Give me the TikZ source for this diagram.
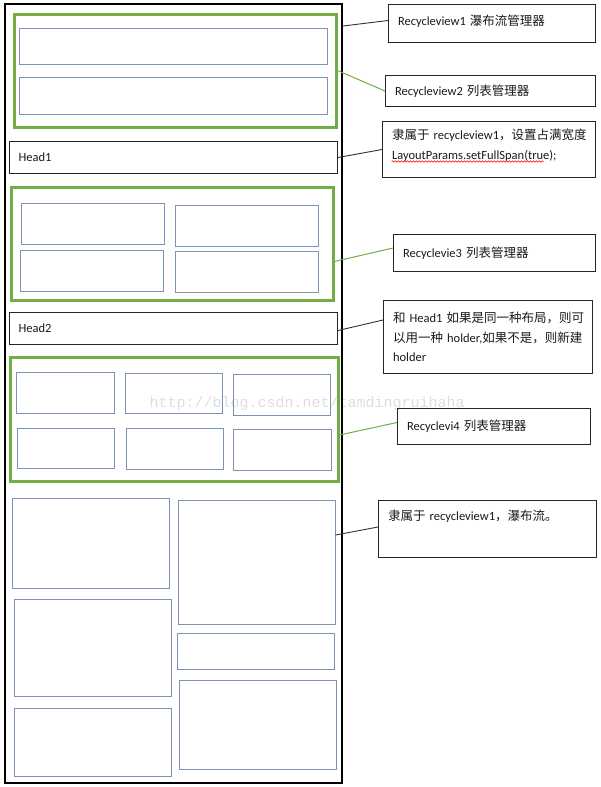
\documentclass[tikz,border=0pt]{standalone}
\usepackage{fontspec}
\setmainfont{Carlito}
\newfontfamily\cjk{Noto Sans CJK SC}
\newfontfamily\wmark{Liberation Mono}
\usetikzlibrary{fit, calc, decorations.pathmorphing}
\definecolor{listgreen}{HTML}{70AD47}
\definecolor{cellblue}{HTML}{7A93B4}
\definecolor{textmain}{HTML}{1A1A1A}
\hyphenpenalty=10000
\exhyphenpenalty=10000

\begin{document}
\begin{tikzpicture}[
    x=1pt, y=-1pt,
    font={\fontsize{12.5pt}{19.5pt}\selectfont},
    frame/.style={draw=black, line width=2pt, inner sep=0pt},
    group/.style={draw=listgreen, line width=3pt, inner sep=0pt},
    cell/.style={draw=cellblue, line width=1pt, inner sep=0pt},
    head/.style={draw=black!85, line width=1pt, anchor=north west, align=left, text=textmain,
                 inner xsep=9pt, inner ysep=0pt, text width=310pt, minimum height=32pt},
    note/.style={draw=black!85, line width=1pt, anchor=north west, align=left, text=textmain,
                 inner xsep=9.5pt, inner ysep=0pt},
    link/.style={draw=black!80, line width=0.9pt},
    glink/.style={draw=listgreen, line width=1pt},
    spellwave/.style={draw=red, line width=0.5pt, decorate,
                      decoration={snake, amplitude=0.8pt, segment length=3pt}}
  ]
  \useasboundingbox (0,0) rectangle (600,787);
  \node[text=black!13, font={\wmark\fontsize{15pt}{15pt}\selectfont}, anchor=west] (mark) at (146,404) {http://blog.csdn.net/tamdingruihaha};

  \node[frame, fit={(5,4) (342,783)}] (frame) {};

  \node[group, fit={(14,14) (336,127)}] (list1) {};
  \node[cell, fit={(19,28) (327,64)}] (top1) {};
  \node[cell, fit={(19,77) (327,114)}] (top2) {};

  \node[head] (head1) at (9,141) {Head1};

  \node[group, fit={(11,187) (333,300)}] (list2) {};
  \node[cell, fit={(21,203) (164,244)}] (grid1) {};
  \node[cell, fit={(175,205) (318,246)}] (grid2) {};
  \node[cell, fit={(20,250) (163,291)}] (grid3) {};
  \node[cell, fit={(175,251) (318,292)}] (grid4) {};

  \node[head] (head2) at (9,312) {Head2};

  \node[group, fit={(10,357) (338,481)}] (list3) {};
  \node[cell, fit={(16,372) (114,413)}] (row1) {};
  \node[cell, fit={(125,373) (222,413)}] (row2) {};
  \node[cell, fit={(233,374) (330,415)}] (row3) {};
  \node[cell, fit={(17,428) (114,468)}] (row4) {};
  \node[cell, fit={(126,428) (223,469)}] (row5) {};
  \node[cell, fit={(233,429) (331,470)}] (row6) {};

  \node[cell, fit={(12,498) (169,588)}] (fall1) {};
  \node[cell, fit={(14,599) (171,696)}] (fall2) {};
  \node[cell, fit={(14,708) (171,776)}] (fall3) {};
  \node[cell, fit={(178,500) (335,624)}] (fall4) {};
  \node[cell, fit={(177,633) (334,669)}] (fall5) {};
  \node[cell, fit={(179,680) (336,769)}] (fall6) {};

  \node[note, text width=188pt, minimum height=38pt, text depth=7pt] (rv1) at (388,4)
    {Recycleview1~{\cjk 瀑布流管理器}};
  \node[note, text width=191pt, minimum height=31pt] (rv2) at (385,75)
    {Recycleview2~{\cjk 列表管理器}};
  \node[note, text width=194pt, minimum height=56pt, text depth=30pt] (span) at (382,121)
    {{\cjk 隶属于}~recycleview1{\cjk ，设置占满宽度}\\LayoutParams.setFullSpan(true);};
  \node[note, text width=183pt, minimum height=37pt] (rv3) at (393,234)
    {Recyclevie3~{\cjk 列表管理器}};
  \node[note, text width=190pt, minimum height=73pt] (holder) at (383,300)
    {{\cjk 和}~Head1~{\cjk 如果是同一种布局，则可}\\{\cjk 以用一种}~holder,{\cjk 如果不是，则新建}\\holder};
  \node[note, text width=174pt, minimum height=36pt] (rv4) at (397,408)
    {Recyclevi4~{\cjk 列表管理器}};
  \node[note, text width=199pt, text height=20pt, text depth=37pt] (flow) at (378,500)
    {{\cjk 隶属于}~recycleview1{\cjk ，瀑布流。}};

  \draw[spellwave] ([xshift=9.5pt, yshift=16.5pt]span.south west) -- ++(152,0);

  \draw[link] ([yshift=-23pt]frame.north east) -- ([yshift=3pt]rv1.west);
  \draw[glink] (list1.east) -- (rv2.west);
  \draw[link] (head1.east) -- (span.west);
  \draw[glink] ([yshift=-18pt]list2.east) -- ([yshift=5pt]rv3.west);
  \draw[link] ([yshift=-2pt]head2.east) -- ([yshift=17pt]holder.west);
  \draw[glink] ([yshift=-16pt]list3.east) -- ([yshift=4pt]rv4.west);
  \draw[link] ([yshift=27pt]fall4.east) -- ([yshift=2pt]flow.west);
\end{tikzpicture}
\end{document}
